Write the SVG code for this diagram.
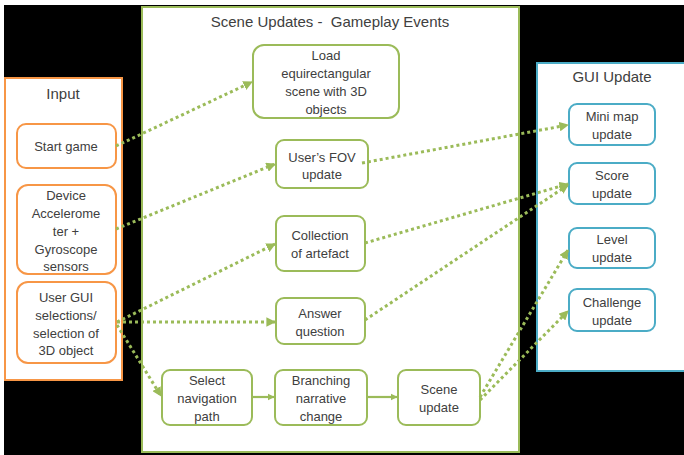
<svg xmlns="http://www.w3.org/2000/svg" width="684" height="455" viewBox="0 0 684 455">
<defs>
<style>
text{font-family:"Liberation Sans",Arial,sans-serif;font-size:13px;fill:#404040;text-anchor:middle}
.title{font-size:15px}
.panel{fill:#fff;stroke-width:2}
.node{fill:#fff;stroke-width:2}
.or{stroke:#F79646}
.gr{stroke:#9BBB59}
.bl{stroke:#4BACC6}
.dot{fill:none;stroke:#9BBB59;stroke-width:3;stroke-dasharray:3 3;marker-end:url(#ah)}
.sol{fill:none;stroke:#9BBB59;stroke-width:2.2;marker-end:url(#ah)}
</style>
<marker id="ah" viewBox="0 0 10 10" refX="9" refY="5" markerWidth="3.2" markerHeight="3.2" orient="auto" markerUnits="strokeWidth">
<path d="M0,0 L10,5 L0,10 z" fill="#9BBB59"/>
</marker>
</defs>
<rect x="0" y="0" width="684" height="455" fill="#fff"/>
<rect x="4" y="5" width="680" height="450" fill="#000"/>

<g id="panel-input">
<rect class="panel or" x="5" y="78" width="117" height="302"/>
<text class="title" x="63" y="99">Input</text>
</g>
<g id="panel-scene">
<rect class="panel gr" x="142" y="7" width="377" height="445"/>
<text class="title" x="330" y="27" xml:space="preserve">Scene Updates -  Gameplay Events</text>
</g>
<g id="panel-gui">
<rect class="panel bl" x="537" y="63" width="152" height="308"/>
<text class="title" x="612" y="82">GUI Update</text>
</g>

<g id="start-game"><rect class="node or" x="17" y="124" width="99" height="44" rx="9"/><text x="66" y="151">Start game</text></g>
<g id="device"><rect class="node or" x="17" y="185" width="99" height="89" rx="11"/><text x="66" y="200">Device</text><text x="66" y="218">Accelerome</text><text x="66" y="236">ter +</text><text x="66" y="254">Gyroscope</text><text x="66" y="271">sensors</text></g>
<g id="user-gui"><rect class="node or" x="17" y="282" width="99" height="81" rx="11"/><text x="66" y="302">User GUI</text><text x="66" y="320">selections/</text><text x="66" y="338">selection of</text><text x="66" y="355">3D object</text></g>

<g id="load"><rect class="node gr" x="253" y="45" width="146" height="73" rx="11"/><text x="326" y="60">Load</text><text x="326" y="78">equirectangular</text><text x="326" y="96">scene with 3D</text><text x="326" y="114">objects</text></g>
<g id="fov"><rect class="node gr" x="276" y="140" width="92" height="48" rx="8"/><text x="322" y="162">User’s FOV</text><text x="322" y="179">update</text></g>
<g id="collection"><rect class="node gr" x="276" y="216" width="89" height="55" rx="8"/><text x="320" y="240">Collection</text><text x="320" y="258">of artefact</text></g>
<g id="answer"><rect class="node gr" x="276" y="298" width="89" height="46" rx="8"/><text x="320" y="318">Answer</text><text x="320" y="336">question</text></g>
<g id="select"><rect class="node gr" x="162" y="370" width="90" height="55" rx="8"/><text x="207" y="385">Select</text><text x="207" y="403">navigation</text><text x="207" y="421">path</text></g>
<g id="branching"><rect class="node gr" x="275" y="370" width="92" height="55" rx="8"/><text x="321" y="385">Branching</text><text x="321" y="403">narrative</text><text x="321" y="421">change</text></g>
<g id="scene-update"><rect class="node gr" x="398" y="370" width="82" height="55" rx="8"/><text x="439" y="394">Scene</text><text x="439" y="412">update</text></g>

<g id="minimap"><rect class="node bl" x="569" y="104" width="86" height="41" rx="8"/><text x="612" y="121">Mini map</text><text x="612" y="139">update</text></g>
<g id="score"><rect class="node bl" x="569" y="163" width="86" height="41" rx="8"/><text x="612" y="180">Score</text><text x="612" y="198">update</text></g>
<g id="level"><rect class="node bl" x="569" y="228" width="86" height="40" rx="8"/><text x="612" y="244">Level</text><text x="612" y="262">update</text></g>
<g id="challenge"><rect class="node bl" x="569" y="289" width="86" height="42" rx="8"/><text x="612" y="307">Challenge</text><text x="612" y="325">update</text></g>

<g id="connectors">
<path class="dot" d="M116,146 L252,82"/>
<path class="dot" d="M116,229 L275,164"/>
<path class="dot" d="M117,322 L275,244"/>
<path class="dot" d="M117,322 L275,322"/>
<path class="dot" d="M117,325 L161,396"/>
<path class="sol" d="M252,397 L274,397"/>
<path class="sol" d="M367,397 L397,397"/>
<path class="dot" d="M362,163 L568,125"/>
<path class="dot" d="M365,243 L568,184"/>
<path class="dot" d="M365,320 L568,185"/>
<path class="dot" d="M480,397 L568,250"/>
<path class="dot" d="M480,400 L568,311"/>
</g>
</svg>
